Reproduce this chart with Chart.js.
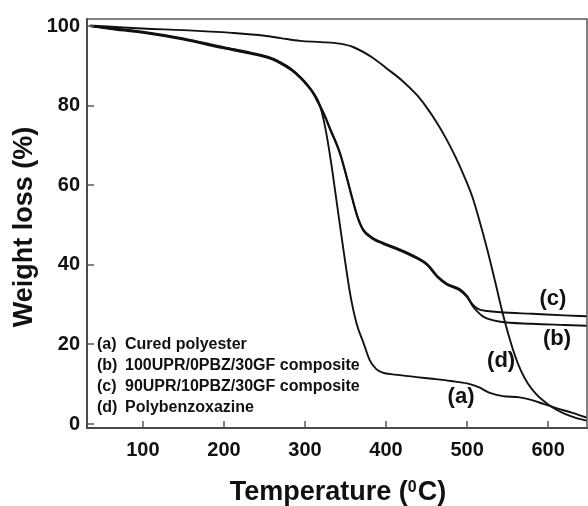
<!DOCTYPE html>
<html><head><meta charset="utf-8">
<script src="https://cdn.jsdelivr.net/npm/chart.js@4.4.1/dist/chart.umd.min.js"></script>
<style>html,body{margin:0;padding:0;background:#fff;}</style>
</head><body>
<canvas id="c" width="588" height="506" style="width:588px;height:506px;display:block"></canvas>
<script>
// (a) Cured polyester
const tempA   = [35, 60, 100, 150, 200, 232, 260, 270, 282, 294, 303, 310, 318, 325, 332, 340, 348, 356, 364, 372, 380, 388, 396, 417, 438, 460, 480, 500, 515, 528, 544, 565, 580, 595, 610, 630, 648];
const weightA = [100, 99.5, 98.6, 96.9, 94.7, 93.4, 91.9, 90.9, 89.4, 87.3, 85.3, 83.4, 80.3, 74.5, 66, 54.5, 43, 32.4, 25, 20.5, 16, 13.8, 12.9, 12.3, 11.8, 11.3, 10.8, 10.2, 9.2, 7.8, 7.0, 6.7, 6.0, 5.0, 4.0, 2.8, 1.6];
// (b) 100UPR/0PBZ/30GF composite
const tempB   = [35, 60, 100, 150, 200, 232, 260, 270, 282, 294, 303, 310, 318, 325, 331, 343, 352, 358, 365, 372, 383, 396, 417, 438, 451, 463, 475, 491, 500, 507, 514, 520, 525, 541, 580, 620, 648];
const weightB = [100, 99.3, 98.3, 96.6, 94.4, 93.1, 91.6, 90.6, 89.1, 87.0, 85.0, 83.1, 80.0, 77.0, 74.0, 68.0, 61.5, 56.8, 51.8, 48.6, 46.6, 45.3, 43.6, 41.6, 39.9, 37.0, 35.0, 33.6, 31.9, 29.6, 28.0, 27.0, 26.5, 25.7, 25.2, 24.9, 24.7];
// (c) 90UPR/10PBZ/30GF composite
const tempC   = [35, 60, 100, 150, 200, 232, 260, 270, 282, 294, 303, 310, 318, 325, 331, 343, 352, 358, 365, 372, 383, 396, 417, 438, 451, 463, 475, 491, 500, 507, 514, 525, 541, 580, 620, 648];
const weightC = [100, 99.5, 98.5, 96.8, 94.6, 93.3, 91.8, 90.8, 89.3, 87.2, 85.2, 83.3, 80.3, 77.3, 74.3, 68.3, 61.8, 57.1, 52.1, 48.9, 46.9, 45.6, 43.9, 41.9, 40.2, 37.3, 35.3, 33.9, 32.2, 30.0, 28.9, 28.4, 28.1, 27.7, 27.3, 27.1];
// (d) Polybenzoxazine
const tempD   = [35, 100, 150, 210, 250, 270, 294, 320, 343, 360, 384, 400, 420, 438, 450, 462, 474, 486, 497, 507, 516, 525, 535, 544, 557, 566, 575, 585, 595, 605, 620, 635, 648];
const weightD = [100.2, 99.4, 99.0, 98.3, 97.6, 97.0, 96.3, 96.0, 95.6, 94.7, 92.0, 89.5, 86.3, 82.7, 79.6, 76.0, 71.8, 67.0, 62.0, 56.8, 50.6, 43.8, 35.5, 27.8, 18.5, 13.6, 10.2, 7.6, 5.7, 4.2, 2.6, 1.5, 0.8];

const xTicks = [100, 200, 300, 400, 500, 600];
const yTicks = [0, 20, 40, 60, 80, 100];
const seriesTags = ['(a)', '(b)', '(c)', '(d)'];
const seriesNames = ['Cured polyester', '100UPR/0PBZ/30GF composite', '90UPR/10PBZ/30GF composite', 'Polybenzoxazine'];
// curve tag anchor points (temperature, weight)
const tagX = [492.6, 611, 606, 542];
const tagY = [6.7, 21.5, 31.4, 15.8];

const FONT = '"Liberation Sans", Arial, Helvetica, sans-serif';
const toPts = (xs, ys) => xs.map((v, i) => ({x: v, y: ys[i]}));
const mk = (xs, ys, label) => ({
  label, data: toPts(xs, ys), borderColor: '#111', borderWidth: 1.9,
  pointRadius: 0, fill: false, cubicInterpolationMode: 'monotone'
});

const decor = {
  id: 'decor',
  afterDraw(chart) {
    const {ctx, chartArea: a, scales: {x, y}} = chart;
    ctx.save();
    ctx.strokeStyle = '#5a5a5a';
    ctx.lineWidth = 1.5;
    ctx.beginPath();
    ctx.moveTo(a.left, a.top); ctx.lineTo(a.right, a.top); ctx.lineTo(a.right, a.bottom);
    ctx.stroke();
    ctx.beginPath();
    xTicks.forEach(v => { const p = Math.round(x.getPixelForValue(v)); ctx.moveTo(p, a.bottom); ctx.lineTo(p, a.bottom - 7); });
    yTicks.forEach(v => { const p = Math.round(y.getPixelForValue(v)); ctx.moveTo(a.left, p); ctx.lineTo(a.left + 7, p); });
    ctx.stroke();

    ctx.fillStyle = '#111';
    // y title
    ctx.save();
    ctx.translate(25, 227);
    ctx.rotate(-Math.PI / 2);
    ctx.font = 'bold 27px ' + FONT;
    ctx.textAlign = 'center'; ctx.textBaseline = 'middle';
    ctx.fillText('Weight loss (%)', 0, 0);
    ctx.restore();
    // x title with superscript
    const big = 'bold 27px ' + FONT, small = 'bold 16px ' + FONT;
    ctx.textBaseline = 'alphabetic'; ctx.textAlign = 'left';
    ctx.font = big; const w1 = ctx.measureText('Temperature (').width; const w3 = ctx.measureText('C)').width;
    ctx.font = small; const w2 = ctx.measureText('0').width + 1;
    let sx = 338 - (w1 + w2 + w3) / 2;
    const base = 499.5;
    ctx.font = big; ctx.fillText('Temperature (', sx, base);
    ctx.font = small; ctx.fillText('0', sx + w1, base - 8);
    ctx.font = big; ctx.fillText('C)', sx + w1 + w2, base);

    // legend block
    ctx.font = 'bold 16px ' + FONT;
    ctx.textBaseline = 'middle';
    for (let i = 0; i < 4; i++) {
      const yy = a.bottom - 83 + i * 21;
      ctx.fillText(seriesTags[i], a.left + 10, yy);
      ctx.fillText(seriesNames[i], a.left + 38, yy);
    }
    // curve tags
    ctx.font = 'bold 22px ' + FONT;
    ctx.textAlign = 'center';
    for (let i = 0; i < 4; i++) {
      ctx.fillText(seriesTags[i], x.getPixelForValue(tagX[i]), y.getPixelForValue(tagY[i]));
    }
    ctx.restore();
  }
};

new Chart(document.getElementById('c'), {
  type: 'line',
  data: { datasets: [
    mk(tempA, weightA, seriesNames[0]),
    mk(tempB, weightB, seriesNames[1]),
    mk(tempC, weightC, seriesNames[2]),
    mk(tempD, weightD, seriesNames[3])
  ]},
  options: {
    responsive: false, animation: false, devicePixelRatio: 1,
    layout: { padding: { top: 13, right: 1, left: 0, bottom: 0 } },
    plugins: { legend: { display: false }, tooltip: { enabled: false } },
    scales: {
      x: {
        type: 'linear', min: 31, max: 648,
        afterFit: s => { s.height = 78; },
        afterBuildTicks: s => { s.ticks = xTicks.map(v => ({value: v})); },
        grid: { display: false, drawTicks: false },
        border: { display: true, color: '#4a4a4a', width: 2 },
        ticks: { padding: 10, color: '#111', font: { family: FONT, size: 20, weight: 'bold' }, maxRotation: 0 }
      },
      y: {
        type: 'linear', min: -1, max: 101.8,
        afterFit: s => { s.width = 87; },
        afterBuildTicks: s => { s.ticks = yTicks.map(v => ({value: v})); },
        grid: { display: false, drawTicks: false },
        border: { display: true, color: '#4a4a4a', width: 2 },
        ticks: { padding: 7, color: '#111', font: { family: FONT, size: 20, weight: 'bold' } }
      }
    }
  },
  plugins: [decor]
});
</script>
</body></html>
